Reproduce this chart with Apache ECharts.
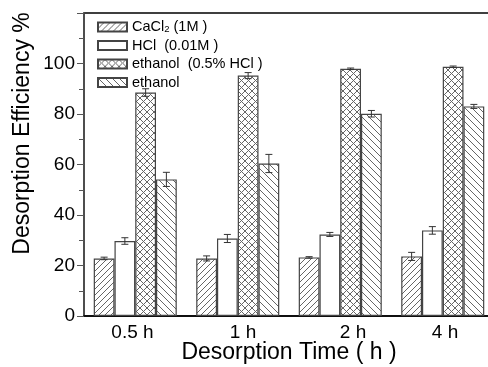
<!DOCTYPE html>
<html>
<head>
<meta charset="utf-8">
<script src="https://cdn.jsdelivr.net/npm/echarts@6/dist/echarts.min.js"></script>
<style>html,body{margin:0;padding:0;background:#fff;}#c{width:488px;height:367px;}</style>
</head>
<body>
<div id="c"></div>
<script>
const categories = ['0.5 h', '1 h', '2 h', '4 h'];
const seriesNames = ['CaCl2 (1M )', 'HCl  (0.01M )', 'ethanol  (0.5% HCl )', 'ethanol'];
const cacl2 = [22.8, 22.8, 23.2, 23.6];
const cacl2Err = [0.5, 1.0, 0.3, 1.6];
const hcl = [29.7, 30.7, 32.3, 33.9];
const hclErr = [1.3, 1.6, 0.8, 1.5];
const ethHcl = [88.5, 95.2, 97.9, 98.7];
const ethHclErr = [1.5, 1.2, 0.3, 0.3];
const ethanol = [54.1, 60.4, 80.1, 83.0];
const ethanolErr = [2.8, 3.6, 1.3, 0.8];
const yTicks = [0, 20, 40, 60, 80, 100];

function makePattern(type) {
  const s = type === 'cross' ? 7 : (type === 'right' ? 6 : 7);
  const c = document.createElement('canvas');
  c.width = s; c.height = s;
  const g = c.getContext('2d');
  g.fillStyle = '#fff';
  g.fillRect(0, 0, s, s);
  g.strokeStyle = '#666';
  g.lineWidth = 1;
  g.beginPath();
  if (type === 'right' || type === 'cross') {
    g.moveTo(0, s); g.lineTo(s, 0);
    g.moveTo(-2, 2); g.lineTo(2, -2);
    g.moveTo(s - 2, s + 2); g.lineTo(s + 2, s - 2);
  }
  if (type === 'left' || type === 'cross') {
    g.moveTo(0, 0); g.lineTo(s, s);
    g.moveTo(-2, s - 2); g.lineTo(2, s + 2);
    g.moveTo(s - 2, -2); g.lineTo(s + 2, 2);
  }
  g.stroke();
  return c;
}

const fills = [
  { image: makePattern('right'), repeat: 'repeat' },
  '#ffffff',
  { image: makePattern('cross'), repeat: 'repeat' },
  { image: makePattern('left'), repeat: 'repeat' }
];
const values = [cacl2, hcl, ethHcl, ethanol];
const errs = [cacl2Err, hclErr, ethHclErr, ethanolErr];
const GAP = 0.19;

const barSeries = values.map((vals, i) => ({
  name: seriesNames[i],
  type: 'bar',
  data: vals,
  barGap: '0%',
  barCategoryGap: '19%',
  itemStyle: { color: fills[i], borderColor: '#444', borderWidth: 1.2 },
  emphasis: { disabled: true },
  z: 2
}));

const errSeries = values.map((vals, i) => ({
  type: 'custom',
  name: 'err' + i,
  data: vals.map((v, k) => [k, v, errs[i][k]]),
  z: 5,
  silent: true,
  renderItem: function (params, api) {
    const idx = api.value(0), v = api.value(1), e = api.value(2);
    const band = api.size([1, 0])[0];
    const bw = band * (1 - GAP) / 4;
    const c = api.coord([idx, v]);
    const x = c[0] + (i - 1.5) * bw;
    const top = api.coord([idx, v + e])[1];
    const bot = api.coord([idx, v - e])[1];
    const st = { stroke: '#333', lineWidth: 1 };
    return {
      type: 'group',
      children: [
        { type: 'line', shape: { x1: x, y1: top, x2: x, y2: bot }, style: st },
        { type: 'line', shape: { x1: x - 3.5, y1: top, x2: x + 3.5, y2: top }, style: st },
        { type: 'line', shape: { x1: x - 3.5, y1: bot, x2: x + 3.5, y2: bot }, style: st }
      ]
    };
  }
}));

const labelPad = [[0, 5.5, 0, 0], [0, 0, 0, 10.5], [0, 0, 0, 25.5], [0, 0, 0, 4.5]];
const rich = {};
labelPad.forEach((p, k) => { rich['l' + k] = { fontSize: 19, color: '#000', fontFamily: 'Liberation Sans', padding: p }; });
rich.a = { fontSize: 14.5, lineHeight: 14, color: '#000', fontFamily: 'Liberation Sans' };
rich.sub = { fontSize: 9.5, lineHeight: 14, color: '#000', fontFamily: 'Liberation Sans', verticalAlign: 'bottom', padding: [5, 0, 0, 0] };

const chart = echarts.init(document.getElementById('c'), null, { renderer: 'canvas' });
chart.setOption({
  animation: false,
  backgroundColor: '#fff',
  textStyle: { fontFamily: 'Liberation Sans' },
  grid: { left: 84, top: 13, right: -6, bottom: 51, outerBoundsMode: 'none', containLabel: false, show: true, borderColor: '#000', borderWidth: 1.5, backgroundColor: 'transparent' },
  legend: {
    data: seriesNames,
    orient: 'vertical',
    left: 92, top: 14,
    itemWidth: 29, itemHeight: 9, itemGap: 3.5,
    icon: 'rect',
    selectedMode: false,
    textStyle: { fontSize: 14.5, lineHeight: 14, color: '#000', fontFamily: 'Liberation Sans', rich: rich },
    formatter: function (name) {
      if (name === seriesNames[0]) return '{a|CaCl}{sub|2}{a| (1M )}';
      return '{a|' + name + '}';
    }
  },
  xAxis: {
    type: 'category',
    data: categories,
    name: 'Desorption Time ( h )',
    nameLocation: 'middle',
    nameGap: 25,
    nameMoveOverlap: false,
    nameTextStyle: { fontSize: 23, color: '#000', fontFamily: 'Liberation Sans' },
    axisLine: { lineStyle: { color: '#000', width: 1.5 } },
    axisTick: { show: false },
    axisLabel: {
      margin: 7,
      fontSize: 19, color: '#000',
      formatter: function (val, idx) { return '{l' + idx + '|' + val + '}'; },
      rich: rich
    }
  },
  yAxis: {
    type: 'value',
    min: 0, max: 120, interval: 20,
    name: 'Desorption Efficiency %',
    nameLocation: 'middle',
    nameGap: 50,
    nameMoveOverlap: false,
    nameTextStyle: { fontSize: 23, color: '#000', fontFamily: 'Liberation Sans', padding: [0, 0, 0, 62] },
    axisLine: { show: true, lineStyle: { color: '#555', width: 1.5 } },
    axisTick: { show: true, inside: false, length: 7, lineStyle: { color: '#555' } },
    minorTick: { show: true, splitNumber: 2, length: 5, lineStyle: { color: '#555' } },
    splitLine: { show: false },
    axisLabel: {
      margin: 9, fontSize: 19, color: '#000',
      formatter: function (v) { return yTicks.indexOf(v) >= 0 ? String(v) : ''; }
    }
  },
  series: barSeries.concat(errSeries)
});
</script>
</body>
</html>
